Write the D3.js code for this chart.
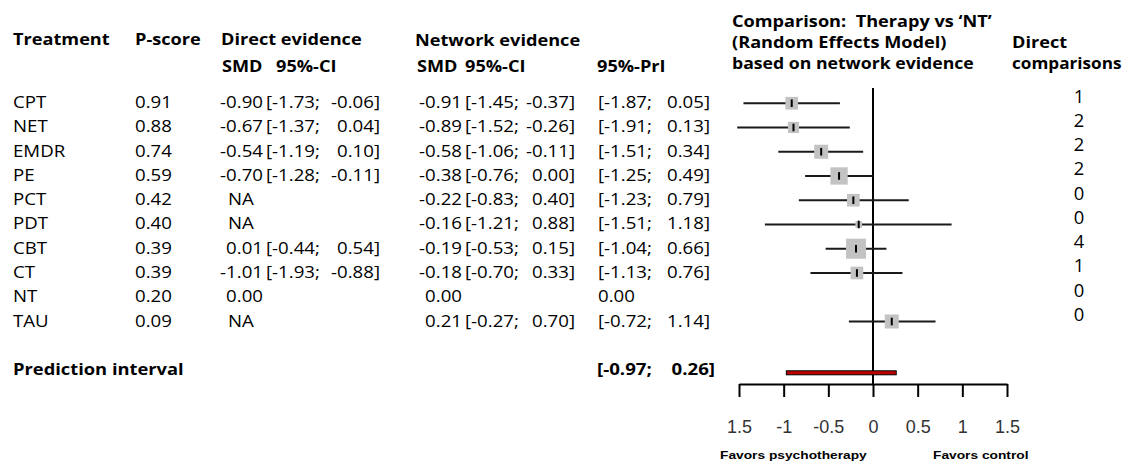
<!DOCTYPE html>
<html><head><meta charset="utf-8">
<script src="https://cdn.jsdelivr.net/npm/d3@7"></script>
<style>
html,body{margin:0;padding:0;background:#fff;}
svg text{white-space:pre;}
</style></head>
<body>
<svg id="chart" width="1124" height="473"></svg>
<script>
// ---------- data ----------
const treatments = ["CPT","NET","EMDR","PE","PCT","PDT","CBT","CT","NT","TAU"];
const pScores = [0.91,0.88,0.74,0.59,0.42,0.40,0.39,0.39,0.20,0.09];
const directSMD = [-0.90,-0.67,-0.54,-0.70,null,null,0.01,-1.01,0.00,null];
const directLo  = [-1.73,-1.37,-1.19,-1.28,null,null,-0.44,-1.93,null,null];
const directHi  = [-0.06,0.04,0.10,-0.11,null,null,0.54,-0.88,null,null];
const netSMD = [-0.91,-0.89,-0.58,-0.38,-0.22,-0.16,-0.19,-0.18,0.00,0.21];
const netLo  = [-1.45,-1.52,-1.06,-0.76,-0.83,-1.21,-0.53,-0.70,null,-0.27];
const netHi  = [-0.37,-0.26,-0.11,0.00,0.40,0.88,0.15,0.33,null,0.70];
const priLo  = [-1.87,-1.91,-1.51,-1.25,-1.23,-1.51,-1.04,-1.13,null,-0.72];
const priHi  = [0.05,0.13,0.34,0.49,0.79,1.18,0.66,0.76,null,1.14];
const directComparisons = [1,2,2,2,0,0,4,1,0,0];
const weights = [0.40,0.31,0.49,0.75,0.40,0.11,1.00,0.40,0,0.49];
const predInterval = [-0.97,0.26];
const xTickValues = [-1.5,-1,-0.5,0,0.5,1,1.5];
const xTickLabels = ["1.5","-1","-0.5","0","0.5","1","1.5"];

// ---------- setup ----------
const svg = d3.select("#chart");
const FONT = "'Open Sans', sans-serif";
const FS = 16.5;
const K = 1.13;   // horizontal stretch, regular text
const KB = 1.10;  // horizontal stretch, bold text
const f2 = d3.format(".2f");
const fmt = v => f2(v).replace("\u2212","-");

function stretch(node, k){
  const w = node.getComputedTextLength();
  node.setAttribute("textLength", w*k);
  node.setAttribute("lengthAdjust","spacingAndGlyphs");
  return w*k;
}
function txt(g, x, y, s, opt={}){
  const t = g.append("text").attr("x",x).attr("y",y).text(s)
    .attr("font-family", opt.family || FONT)
    .attr("font-size", opt.size || FS)
    .attr("font-weight", opt.bold ? "bold" : "normal")
    .attr("fill", opt.fill || "#000");
  const k = opt.k === undefined ? (opt.bold ? KB : K) : opt.k;
  const w = stretch(t.node(), k);
  if (opt.anchor === "end") t.attr("x", x - w);
  if (opt.anchor === "middle") t.attr("x", x - w/2);
  return t;
}

const x = d3.scaleLinear().domain([-1.5,1.5]).range([739,1007]);
const y = d3.scaleLinear().domain([0, treatments.length-1]).range([103.2,321.5]);
const sz = d3.scaleSqrt().domain([0,1]).range([0,20]);

const gT = svg.append("g");

// headers
txt(gT,13,45,"Treatment",{bold:true});
txt(gT,135,45,"P-score",{bold:true});
txt(gT,221,45,"Direct evidence",{bold:true});
txt(gT,415,46,"Network evidence",{bold:true});
txt(gT,222,72,"SMD",{bold:true});
txt(gT,276,72,"95%-CI",{bold:true});
txt(gT,417,72,"SMD",{bold:true});
txt(gT,465,72,"95%-CI",{bold:true});
txt(gT,597,72,"95%-PrI",{bold:true});

svg.append("clipPath").attr("id","hclip").append("rect")
  .attr("x",0).attr("y",0).attr("width",996).attr("height",40);
const gH = svg.append("g").attr("clip-path","url(#hclip)");
txt(gH,732,27,"Comparison:  Therapy vs \u2018NT\u2019",{bold:true});
txt(gT,732,48,"(Random Effects Model)",{bold:true});
txt(gT,732,69,"based on network evidence",{bold:true,k:1.07});
txt(gT,1012,48,"Direct",{bold:true});
txt(gT,1012,69,"comparisons",{bold:true,k:1.04});

// rows
treatments.forEach((t,i)=>{
  const yb = y(i) + 5;
  txt(gT,13,yb,t);
  txt(gT,135,yb,fmt(pScores[i]));
  // direct
  if (directSMD[i] === null) {
    txt(gT,228,yb,"NA");
  } else {
    txt(gT,263,yb,fmt(directSMD[i]),{anchor:"end"});
    if (directLo[i] !== null) {
      txt(gT,266,yb,"["+fmt(directLo[i])+";");
      txt(gT,380,yb,fmt(directHi[i])+"]",{anchor:"end"});
    }
  }
  // network
  txt(gT,462,yb,fmt(netSMD[i]),{anchor:"end"});
  if (netLo[i] !== null) {
    txt(gT,465,yb,"["+fmt(netLo[i])+";");
    txt(gT,575,yb,fmt(netHi[i])+"]",{anchor:"end"});
  }
  // prediction interval
  if (priLo[i] !== null) {
    txt(gT,598,yb,"["+fmt(priLo[i])+";");
    txt(gT,710,yb,fmt(priHi[i])+"]",{anchor:"end"});
  } else {
    txt(gT,598,yb,fmt(netSMD[i]));
  }
  // direct comparisons count
  txt(gT,1079,y(i)-0.5,String(directComparisons[i]),{anchor:"middle",size:17.5,k:1.05});
});

// prediction interval row
txt(gT,13,374.5,"Prediction interval",{bold:true,k:1.11});
txt(gT,597,374.5,"["+fmt(predInterval[0])+";",{bold:true,k:1.13});
txt(gT,715,374.5,fmt(predInterval[1])+"]",{bold:true,k:1.13,anchor:"end"});

// ---------- forest plot ----------
const gF = svg.append("g");
gF.append("line").attr("x1",x(0)).attr("x2",x(0)).attr("y1",88).attr("y2",384)
  .attr("stroke","#000").attr("stroke-width",2);

treatments.forEach((t,i)=>{
  if (netLo[i] === null) return;
  const cy = y(i);
  gF.append("line").attr("x1",x(netLo[i])).attr("x2",x(netHi[i]))
    .attr("y1",cy).attr("y2",cy).attr("stroke","#1a1a1a").attr("stroke-width",2);
  const s = sz(weights[i]);
  gF.append("rect").attr("x",x(netSMD[i])-s/2).attr("y",cy-s/2)
    .attr("width",s).attr("height",s).attr("fill","#c3c3c3");
  gF.append("line").attr("x1",x(netSMD[i])).attr("x2",x(netSMD[i]))
    .attr("y1",cy-3.8).attr("y2",cy+3.8).attr("stroke","#000").attr("stroke-width",2);
});

gF.append("rect").attr("x",x(predInterval[0])).attr("y",370.8)
  .attr("width",x(predInterval[1])-x(predInterval[0])).attr("height",4)
  .attr("fill","#c00000").attr("stroke","#000").attr("stroke-width",1);

const axis = d3.axisBottom(x).tickValues(xTickValues)
  .tickFormat((d,i)=>xTickLabels[i]).tickSize(13).tickSizeOuter(0).tickPadding(23);
const gA = svg.append("g").attr("transform","translate(0,384)").call(axis);
gA.select(".domain").attr("stroke","#000").attr("stroke-width",2);
gA.selectAll(".tick line").attr("stroke","#000").attr("stroke-width",2);
gA.selectAll(".tick text").attr("font-family","'Liberation Sans', Arial, sans-serif")
  .attr("font-size",18).attr("fill","#333");

txt(svg,720,459,"Favors psychotherapy",{bold:true,size:11,k:1.25,family:"'Liberation Sans', Arial, sans-serif"});
txt(svg,933,459,"Favors control",{bold:true,size:11,k:1.25,family:"'Liberation Sans', Arial, sans-serif"});
</script>
</body></html>
